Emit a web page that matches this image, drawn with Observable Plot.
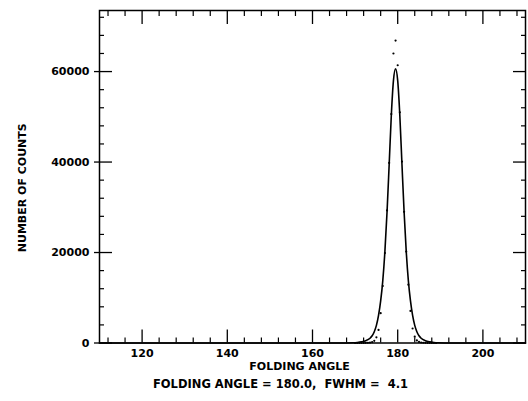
<!DOCTYPE html>
<html><head><meta charset="utf-8">
<script src="https://cdn.jsdelivr.net/npm/d3@7"></script>
<script src="https://cdn.jsdelivr.net/npm/@observablehq/plot@0.6"></script>
<style>
body{margin:0;background:#fff;}
svg text{white-space:pre;}
</style>
</head><body><div id="chart"></div>
<script>
// Fitted curve (solid line)
const fitAngle = [110,150,160,165,168,169.5,170.5,171.5,172.5,173.5,174,174.5,175,175.5,176,176.5,177,177.5,178,178.5,179,
  179.5,
  180,180.5,181,181.5,182,182.5,183,183.5,184,184.5,185,185.5,
  186.5,187.5,188.5,189.5,191,194,199,210];
const fitCounts = [0,0,2,5,15,50,120,250,500,1050,1600,2500,3900,6100,9300,13800,20300,29000,39500,50300,58000,
  60600,
  58000,50300,39500,29000,20300,13800,9300,6100,3900,2500,1600,1050,
  500,250,120,50,15,5,2,0];
// Measured counts (dots)
const dataAngle = [170,170.5,171,171.5,172,172.5,173,173.5,174,174.5,175,175.5,176,176.5,177,177.5,178,178.5,179,179.5,
  180,180.5,181,181.5,182,182.5,183,183.5,184,184.5,185,185.5,186,186.5,187,187.5,188,188.5,189];
const dataCounts = [0,0,0,10,20,30,50,90,200,480,1250,2900,6600,12600,19900,29300,39800,50600,64000,66850,
  61400,51000,40100,29000,20200,12900,7100,3200,1400,560,240,110,50,30,20,10,0,0,0];
// Axes
const xMajorTicks = [120,140,160,180,200];
const xMinorTicks = [112,116,124,128,132,136,144,148,152,156,164,168,172,176,184,188,192,196,204,208];
const yMajorTicks = [0,20000,40000,60000];
const yMinorTicks = [4000,8000,12000,16000,24000,28000,32000,36000,44000,48000,52000,56000,64000,68000,72000];
const xTitle = "FOLDING ANGLE";
const yTitle = "NUMBER OF COUNTS";
const captionText = "FOLDING ANGLE = 180.0,  FWHM =  4.1";

const fit = fitAngle.map((a, i) => ({angle: a, counts: fitCounts[i]}));
const data = dataAngle.map((a, i) => ({angle: a, counts: dataCounts[i]}));
const blank = () => "";
const font = "'DejaVu Sans', sans-serif";

const chart = Plot.plot({
  width: 528, height: 401,
  marginLeft: 99, marginRight: 3, marginTop: 10, marginBottom: 58.5,
  style: {fontFamily: font, fontSize: "11px", fontWeight: "bold", color: "#000", background: "#fff"},
  x: {domain: [110, 210], label: null},
  y: {domain: [0, 73500], label: null},
  marks: [
    Plot.axisX(xMajorTicks, {anchor: "bottom", tickSize: 0, tickPadding: 6.5, label: null, tickFormat: d => String(d), fontWeight: "bold"}),
    Plot.axisX(xMajorTicks, {anchor: "bottom", tickSize: -13, tickFormat: blank, label: null, strokeWidth: 1.3}),
    Plot.axisX(xMinorTicks, {anchor: "bottom", tickSize: -5, tickFormat: blank, label: null, strokeWidth: 1.2}),
    Plot.axisX(xMajorTicks, {anchor: "top", tickSize: -13, tickFormat: blank, label: null, strokeWidth: 1.3}),
    Plot.axisX(xMinorTicks, {anchor: "top", tickSize: -5, tickFormat: blank, label: null, strokeWidth: 1.2}),
    Plot.axisY(yMajorTicks, {anchor: "left", tickSize: 0, tickPadding: 10, label: null, tickFormat: d => String(d), fontWeight: "bold"}),
    Plot.axisY(yMajorTicks, {anchor: "left", tickSize: -13, tickFormat: blank, label: null, strokeWidth: 1.3}),
    Plot.axisY(yMajorTicks, {anchor: "left", tickSize: 5, tickFormat: blank, label: null, strokeWidth: 1.3}),
    Plot.axisY(yMinorTicks, {anchor: "left", tickSize: -5, tickFormat: blank, label: null, strokeWidth: 1.2}),
    Plot.axisY(yMajorTicks, {anchor: "right", tickSize: -13, tickFormat: blank, label: null, strokeWidth: 1.3}),
    Plot.axisY(yMinorTicks, {anchor: "right", tickSize: -5, tickFormat: blank, label: null, strokeWidth: 1.2}),
    Plot.frame({stroke: "#000", strokeWidth: 1.5}),
    Plot.line(fit, {x: "angle", y: "counts", stroke: "#000", strokeWidth: 1.6, curve: "monotone-x"}),
    Plot.dot(data, {x: "angle", y: "counts", r: 1.1, fill: "#000"}),
    Plot.text([xTitle], {text: d => d, frameAnchor: "bottom", textAnchor: "middle", dx: -13, dy: 26.5, fontWeight: "bold", fontSize: 11}),
    Plot.text([captionText], {text: d => d, frameAnchor: "bottom", textAnchor: "middle", dx: -32, dy: 45, fontWeight: "bold", fontSize: 11.5}),
    Plot.text([yTitle], {text: d => d, frameAnchor: "left", textAnchor: "middle", rotate: -90, dx: -77, dy: 11, fontWeight: "bold", fontSize: 11})
  ]
});
document.getElementById("chart").appendChild(chart);
</script>
</body></html>
